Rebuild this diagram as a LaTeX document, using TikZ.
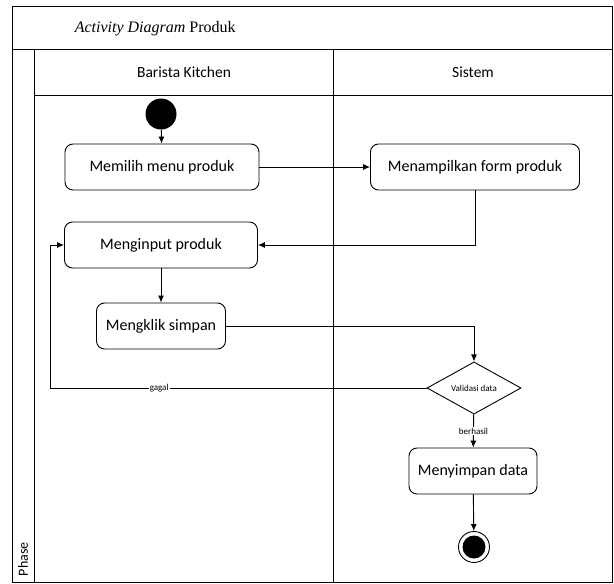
\documentclass[tikz,border=0pt]{standalone}
\usepackage{fontspec}
\setmainfont{Carlito}
\newfontfamily\titleserif{Liberation Serif}
\usetikzlibrary{shapes.geometric, arrows.meta}

\begin{document}
\begin{tikzpicture}[x=1pt, y=-1pt, line width=0.9pt, >={Latex[length=7pt, width=6pt]},
    activity/.style={rectangle, draw, rounded corners=8pt, minimum height=46pt, font=\fontsize{16}{19}\selectfont},
    decision/.style={diamond, draw, minimum width=94pt, minimum height=46pt, inner sep=0pt, font=\fontsize{9}{11}\selectfont},
    guard/.style={fill=white, inner sep=1pt, font=\fontsize{9}{11}\selectfont},
    lane/.style={font=\fontsize{15.5}{18}\selectfont}]

    \useasboundingbox (0,0) rectangle (614,584);
    % Frame, title row and swimlanes
    \draw (12,6) rectangle (612,582);
    \draw (12,49) -- (612,49);
    \draw (34,49) -- (34,582);
    \draw (34,95) -- (612,95);
    \draw (333,49) -- (333,582);
    \node[anchor=west, font=\titleserif\fontsize{16}{19}\selectfont] (title) at (71,29) {\textit{Activity Diagram} Produk};
    \node[lane] (barista) at (184,72) {Barista Kitchen};
    \node[lane] (sistem) at (473,72) {Sistem};
    \node[rotate=90, anchor=west, font=\fontsize{14}{16}\selectfont] (phase) at (23,580) {Phase};

    % Define activities with coordinates
    \node[circle, fill=black, minimum size=31pt, inner sep=0pt] (start) at (161,114) {};
    \node[activity, minimum width=194pt] (memilih) at (162,167) {Memilih menu produk};
    \node[activity, minimum width=209pt] (menampilkan) at (475,167) {Menampilkan form produk};
    \node[activity, minimum width=193pt] (menginput) at (161,245) {Menginput produk};
    \node[activity, minimum width=129pt] (mengklik) at (161,326) {Mengklik simpan};
    \node[decision] (validasi) at (474,388) {Validasi data};
    \node[activity, minimum width=128pt] (menyimpan) at (473,471) {Menyimpan data};
    \node[circle, draw, minimum size=31pt, inner sep=0pt,
        path picture={\fill (path picture bounding box.center) circle (11.5pt);}] (end) at (474,547) {};
    \coordinate (back) at (50,388);

    % Draw flows between the activities
    \draw[->] (start) -- (memilih);
    \draw[->] (memilih) -- (menampilkan);
    \draw[->] (menampilkan.south) |- (menginput.east);
    \draw[->] (menginput) -- (mengklik);
    \draw[->] (mengklik.east) -| (validasi.north);
    \draw[->] (validasi.west) -- node[guard, pos=0.71] {gagal} (back) |- (menginput.west);
    \draw[->] (validasi) -- node[guard] {berhasil} (menyimpan);
    \draw[->] (menyimpan) -- (end);
\end{tikzpicture}
\end{document}
